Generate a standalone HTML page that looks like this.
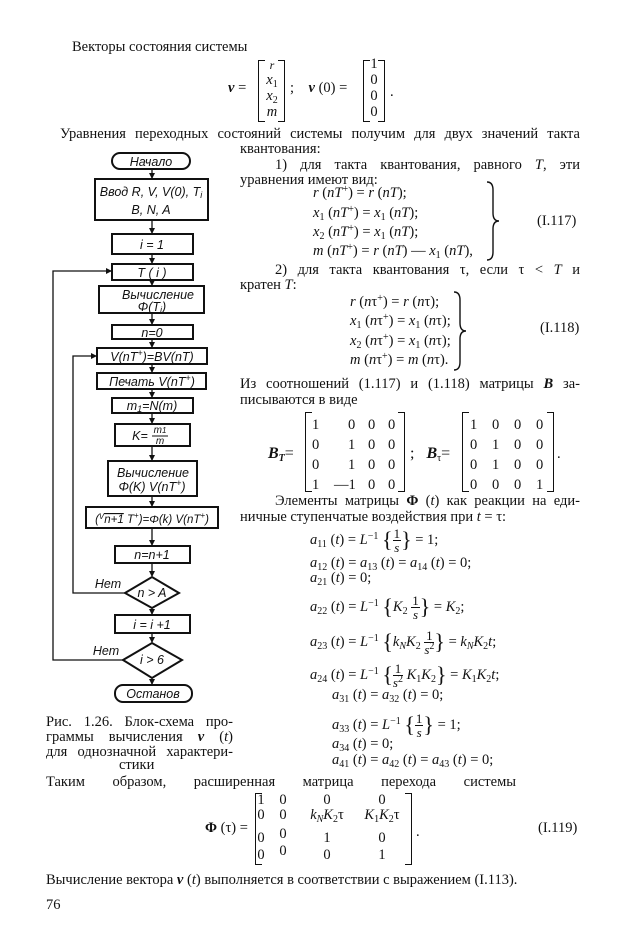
<!DOCTYPE html>
<html><head><meta charset="utf-8"><style>
body{margin:0;background:#fff;}
#p{position:relative;width:620px;height:950px;overflow:hidden;font-family:"Liberation Serif",serif;font-size:14.5px;color:#111;}
.t{position:absolute;line-height:16px;white-space:nowrap;}
.j{position:absolute;line-height:16px;text-align:justify;text-align-last:justify;white-space:nowrap;}
.j span{display:inline}
i{font-style:italic}
b{font-weight:bold}
sub{font-size:10px;vertical-align:-3px;line-height:0}
sup{font-size:10px;vertical-align:5px;line-height:0}
.br{position:absolute;border:1.5px solid #111;}
.bl{border-right:none;width:6px}
.bR{border-left:none;width:6px}
.c{position:absolute;line-height:16px;text-align:center;white-space:nowrap;}
.fr{display:inline-block;vertical-align:middle;text-align:center;line-height:13px;font-size:13px}
.fr span{display:block}
.fr .n{border-bottom:1px solid #111;padding:0 1px}
.cb{font-size:22px;vertical-align:-3px}
</style></head><body><div id="p">

<div class="t" style="left:72px;top:39px">Векторы состояния системы</div>
<div class="t" style="left:228px;top:80px"><b><i>v</i></b> =</div>
<div class="br bl" style="left:258px;top:60px;height:60px"></div>
<div class="br bR" style="left:278px;top:60px;height:60px"></div>
<div class="c" style="left:262px;width:20px;top:57px;font-size:12px"><i>r</i></div>
<div class="c" style="left:262px;width:20px;top:72px"><i>x</i><sub>1</sub></div>
<div class="c" style="left:262px;width:20px;top:88px"><i>x</i><sub>2</sub></div>
<div class="c" style="left:262px;width:20px;top:104px"><i>m</i></div>
<div class="t" style="left:290px;top:80px">;&nbsp;&nbsp;&nbsp; <b><i>v</i></b> (0) =</div>
<div class="br bl" style="left:363px;top:60px;height:60px"></div>
<div class="br bR" style="left:378px;top:60px;height:60px"></div>
<div class="c" style="left:366px;width:16px;top:56px">1</div>
<div class="c" style="left:366px;width:16px;top:72px">0</div>
<div class="c" style="left:366px;width:16px;top:88px">0</div>
<div class="c" style="left:366px;width:16px;top:104px">0</div>
<div class="t" style="left:390px;top:84px">.</div>

<div class="j" style="left:60px;width:520px;top:126px">Уравнения переходных состояний системы получим для двух значений такта</div>
<div class="t" style="left:240px;top:141px">квантования:</div>
<div class="j" style="left:275px;width:305px;top:157px">1) для такта квантования, равного <i>T</i>, эти</div>
<div class="t" style="left:240px;top:172px">уравнения имеют вид:</div>
<div class="t" style="left:313px;top:185px"><i>r</i> (<i>nT</i><sup>+</sup>) = <i>r</i> (<i>nT</i>);</div>
<div class="t" style="left:313px;top:205px"><i>x</i><sub>1</sub> (<i>nT</i><sup>+</sup>) = <i>x</i><sub>1</sub> (<i>nT</i>);</div>
<div class="t" style="left:313px;top:224px"><i>x</i><sub>2</sub> (<i>nT</i><sup>+</sup>) = <i>x</i><sub>1</sub> (<i>nT</i>);</div>
<div class="t" style="left:313px;top:243px"><i>m</i> (<i>nT</i><sup>+</sup>) = <i>r</i> (<i>nT</i>) — <i>x</i><sub>1</sub> (<i>nT</i>),</div>
<svg style="position:absolute;left:485px;top:180px" width="20" height="82"><path d="M2 2 Q8 2 8 10 L8 33 Q8 41 14 41 Q8 41 8 49 L8 72 Q8 80 2 80" fill="none" stroke="#111" stroke-width="1.4"/></svg>
<div class="t" style="left:537px;top:213px">(I.117)</div>

<div class="j" style="left:275px;width:305px;top:262px">2) для такта квантования τ, если τ &lt; <i>T</i> и</div>
<div class="t" style="left:240px;top:277px">кратен <i>T</i>:</div>
<div class="t" style="left:350px;top:294px"><i>r</i> (<i>n</i>τ<sup>+</sup>) = <i>r</i> (<i>n</i>τ);</div>
<div class="t" style="left:350px;top:313px"><i>x</i><sub>1</sub> (<i>n</i>τ<sup>+</sup>) = <i>x</i><sub>1</sub> (<i>n</i>τ);</div>
<div class="t" style="left:350px;top:333px"><i>x</i><sub>2</sub> (<i>n</i>τ<sup>+</sup>) = <i>x</i><sub>1</sub> (<i>n</i>τ);</div>
<div class="t" style="left:350px;top:352px"><i>m</i> (<i>n</i>τ<sup>+</sup>) = <i>m</i> (<i>n</i>τ).</div>
<svg style="position:absolute;left:452px;top:290px" width="20" height="82"><path d="M2 2 Q8 2 8 10 L8 33 Q8 41 14 41 Q8 41 8 49 L8 72 Q8 80 2 80" fill="none" stroke="#111" stroke-width="1.4"/></svg>
<div class="t" style="left:540px;top:320px">(I.118)</div>

<div class="j" style="left:240px;width:340px;top:376px">Из соотношений (1.117) и (1.118) матрицы <b><i>B</i></b> за-</div>
<div class="t" style="left:240px;top:392px">писываются в виде</div>
<div class="t" style="left:268px;top:446px;font-size:16px"><b><i>B</i></b><sub style="font-style:italic;font-weight:bold">T</sub>=</div>
<div class="br bl" style="left:305px;top:412px;height:78px"></div>
<div class="br bR" style="left:398px;top:412px;height:78px"></div>
<div class="t" style="left:312px;top:417px;word-spacing:0">1</div><div class="t" style="left:348px;top:417px">0</div><div class="t" style="left:368px;top:417px">0</div><div class="t" style="left:388px;top:417px">0</div>
<div class="t" style="left:312px;top:437px">0</div><div class="t" style="left:348px;top:437px">1</div><div class="t" style="left:368px;top:437px">0</div><div class="t" style="left:388px;top:437px">0</div>
<div class="t" style="left:312px;top:457px">0</div><div class="t" style="left:348px;top:457px">1</div><div class="t" style="left:368px;top:457px">0</div><div class="t" style="left:388px;top:457px">0</div>
<div class="t" style="left:312px;top:477px">1</div><div class="t" style="left:334px;top:477px">—1</div><div class="t" style="left:368px;top:477px">0</div><div class="t" style="left:388px;top:477px">0</div>
<div class="t" style="left:410px;top:446px;font-size:16px">;&nbsp;&nbsp; <b><i>B</i></b><sub>τ</sub>=</div>
<div class="br bl" style="left:462px;top:412px;height:78px"></div>
<div class="br bR" style="left:547px;top:412px;height:78px"></div>
<div class="t" style="left:470px;top:417px">1</div><div class="t" style="left:492px;top:417px">0</div><div class="t" style="left:514px;top:417px">0</div><div class="t" style="left:536px;top:417px">0</div>
<div class="t" style="left:470px;top:437px">0</div><div class="t" style="left:492px;top:437px">1</div><div class="t" style="left:514px;top:437px">0</div><div class="t" style="left:536px;top:437px">0</div>
<div class="t" style="left:470px;top:457px">0</div><div class="t" style="left:492px;top:457px">1</div><div class="t" style="left:514px;top:457px">0</div><div class="t" style="left:536px;top:457px">0</div>
<div class="t" style="left:470px;top:477px">0</div><div class="t" style="left:492px;top:477px">0</div><div class="t" style="left:514px;top:477px">0</div><div class="t" style="left:536px;top:477px">1</div>
<div class="t" style="left:557px;top:446px">.</div>

<div class="j" style="left:275px;width:305px;top:493px">Элементы матрицы <b>Φ</b> (<i>t</i>) как реакции на еди-</div>
<div class="t" style="left:240px;top:509px">ничные ступенчатые воздействия при <i>t</i> = τ:</div>

<div class="t" style="left:310px;top:527px"><i>a</i><sub>11</sub> (<i>t</i>) = <i>L</i><sup>−1</sup> <span class="cb">{</span><span class="fr"><span class="n">1</span><span><i>s</i></span></span><span class="cb">}</span> = 1;</div>
<div class="t" style="left:310px;top:555px"><i>a</i><sub>12</sub> (<i>t</i>) = <i>a</i><sub>13</sub> (<i>t</i>) = <i>a</i><sub>14</sub> (<i>t</i>) = 0;</div>
<div class="t" style="left:310px;top:570px"><i>a</i><sub>21</sub> (<i>t</i>) = 0;</div>
<div class="t" style="left:310px;top:594px"><i>a</i><sub>22</sub> (<i>t</i>) = <i>L</i><sup>−1</sup> <span class="cb">{</span><i>K</i><sub>2</sub> <span class="fr"><span class="n">1</span><span><i>s</i></span></span><span class="cb">}</span> = <i>K</i><sub>2</sub>;</div>
<div class="t" style="left:310px;top:629px"><i>a</i><sub>23</sub> (<i>t</i>) = <i>L</i><sup>−1</sup> <span class="cb">{</span><i>k<sub>N</sub>K</i><sub>2</sub> <span class="fr"><span class="n">1</span><span><i>s</i><sup>2</sup></span></span><span class="cb">}</span> = <i>k<sub>N</sub>K</i><sub>2</sub><i>t</i>;</div>
<div class="t" style="left:310px;top:662px"><i>a</i><sub>24</sub> (<i>t</i>) = <i>L</i><sup>−1</sup> <span class="cb">{</span><span class="fr"><span class="n">1</span><span><i>s</i><sup>2</sup></span></span> <i>K</i><sub>1</sub><i>K</i><sub>2</sub><span class="cb">}</span> = <i>K</i><sub>1</sub><i>K</i><sub>2</sub><i>t</i>;</div>
<div class="t" style="left:332px;top:687px"><i>a</i><sub>31</sub> (<i>t</i>) = <i>a</i><sub>32</sub> (<i>t</i>) = 0;</div>
<div class="t" style="left:332px;top:712px"><i>a</i><sub>33</sub> (<i>t</i>) = <i>L</i><sup>−1</sup> <span class="cb">{</span><span class="fr"><span class="n">1</span><span><i>s</i></span></span><span class="cb">}</span> = 1;</div>
<div class="t" style="left:332px;top:736px"><i>a</i><sub>34</sub> (<i>t</i>) = 0;</div>
<div class="t" style="left:332px;top:752px"><i>a</i><sub>41</sub> (<i>t</i>) = <i>a</i><sub>42</sub> (<i>t</i>) = <i>a</i><sub>43</sub> (<i>t</i>) = 0;</div>

<div class="j" style="left:46px;width:187px;top:714px">Рис. 1.26. Блок-схема про-</div>
<div class="j" style="left:46px;width:187px;top:729px">граммы вычисления <b><i>v</i></b> (<i>t</i>)</div>
<div class="j" style="left:46px;width:187px;top:744px">для однозначной характери-</div>
<div class="t" style="left:119px;top:757px">стики</div>

<div class="j" style="left:46px;width:470px;top:774px">Таким образом, расширенная матрица перехода системы</div>
<div class="t" style="left:205px;top:820px"><b>Φ</b> (τ) =</div>
<div class="br bl" style="left:255px;top:793px;height:70px"></div>
<div class="br bR" style="left:405px;top:793px;height:70px"></div>
<div class="c" style="left:254px;width:14px;top:792px">1</div><div class="c" style="left:276px;width:14px;top:792px">0</div><div class="c" style="left:307px;width:40px;top:792px">0</div><div class="c" style="left:357px;width:50px;top:792px">0</div>
<div class="c" style="left:254px;width:14px;top:807px">0</div><div class="c" style="left:276px;width:14px;top:807px">0</div><div class="c" style="left:302px;width:50px;top:807px"><i>k<sub>N</sub>K</i><sub>2</sub>τ</div><div class="c" style="left:357px;width:50px;top:807px"><i>K</i><sub>1</sub><i>K</i><sub>2</sub>τ</div>
<div class="c" style="left:254px;width:14px;top:830px">0</div><div class="c" style="left:276px;width:14px;top:826px">0</div><div class="c" style="left:307px;width:40px;top:830px">1</div><div class="c" style="left:357px;width:50px;top:830px">0</div>
<div class="c" style="left:254px;width:14px;top:847px">0</div><div class="c" style="left:276px;width:14px;top:843px">0</div><div class="c" style="left:307px;width:40px;top:847px">0</div><div class="c" style="left:357px;width:50px;top:847px">1</div>
<div class="t" style="left:416px;top:824px">.</div>
<div class="t" style="left:538px;top:820px">(I.119)</div>

<div class="t" style="left:46px;top:872px">Вычисление вектора <b><i>v</i></b> (<i>t</i>) выполняется в соответствии с выражением (I.113).</div>
<div class="t" style="left:46px;top:897px">76</div>

<svg style="position:absolute;left:0;top:0" width="620" height="950" font-family="Liberation Sans, sans-serif" font-style="italic" font-size="12.5" text-anchor="middle">
<defs><marker id="a" markerWidth="6" markerHeight="6" refX="5" refY="3" orient="auto" markerUnits="userSpaceOnUse"><path d="M0 0 L6 3 L0 6 Z" fill="#111"/></marker></defs>
<g stroke="#111" stroke-width="1.3" fill="none">
<line x1="152" y1="169" x2="152" y2="178" marker-end="url(#a)"/>
<line x1="152" y1="220" x2="152" y2="233" marker-end="url(#a)"/>
<line x1="152" y1="254" x2="152" y2="263" marker-end="url(#a)"/>
<line x1="152" y1="280" x2="152" y2="285" marker-end="url(#a)"/>
<line x1="152" y1="313" x2="152" y2="324" marker-end="url(#a)"/>
<line x1="152" y1="339" x2="152" y2="347" marker-end="url(#a)"/>
<line x1="152" y1="364" x2="152" y2="372" marker-end="url(#a)"/>
<line x1="152" y1="389" x2="152" y2="397" marker-end="url(#a)"/>
<line x1="152" y1="413" x2="152" y2="423" marker-end="url(#a)"/>
<line x1="152" y1="446" x2="152" y2="460" marker-end="url(#a)"/>
<line x1="152" y1="496" x2="152" y2="506" marker-end="url(#a)"/>
<line x1="152" y1="528" x2="152" y2="545" marker-end="url(#a)"/>
<line x1="152" y1="563" x2="152" y2="576" marker-end="url(#a)"/>
<line x1="152" y1="608" x2="152" y2="614" marker-end="url(#a)"/>
<line x1="152" y1="633" x2="152" y2="642" marker-end="url(#a)"/>
<line x1="152" y1="678" x2="152" y2="684" marker-end="url(#a)"/>
<polyline points="123,660 53,660 53,271 111,271" marker-end="url(#a)"/>
<polyline points="125,593 73,593 73,356 96,356" marker-end="url(#a)"/>
</g>
<g stroke="#111" stroke-width="2" fill="#fff">
<rect x="112" y="153" width="78" height="16" rx="8"/>
<rect x="95" y="179" width="113" height="41"/>
<rect x="112" y="234" width="81" height="20"/>
<rect x="112" y="264" width="81" height="16"/>
<rect x="99" y="286" width="105" height="27"/>
<rect x="112" y="325" width="81" height="14"/>
<rect x="97" y="348" width="110" height="16"/>
<rect x="97" y="373" width="109" height="16"/>
<rect x="112" y="398" width="81" height="15"/>
<rect x="115" y="424" width="75" height="22"/>
<rect x="108" y="461" width="89" height="35"/>
<rect x="86" y="507" width="132" height="21"/>
<rect x="115" y="546" width="75" height="17"/>
<polygon points="125,593 152,577 179,593 152,608"/>
<rect x="115" y="615" width="75" height="18"/>
<polygon points="123,660 152,643 182,660 152,678"/>
<rect x="115" y="685" width="77" height="17" rx="8"/>
</g>
<g fill="#111">
<text x="151" y="166">Начало</text>
<text x="151" y="196">Ввод R, V, V(0), T<tspan font-size="9" dy="2">i</tspan></text>
<text x="151" y="214">B, N, A</text>
<text x="152" y="249">i = 1</text>
<text x="152" y="277">T ( i )</text>
<text x="158" y="299">Вычисление</text>
<text x="152" y="311">Φ(T<tspan font-size="9" dy="2">i</tspan><tspan dy="-2">)</tspan></text>
<text x="152" y="337">n=0</text>
<text x="152" y="361">V(nT<tspan font-size="9" dy="-5">+</tspan><tspan dy="5">)=BV(nT)</tspan></text>
<text x="152" y="386">Печать V(nT<tspan font-size="9" dy="-5">+</tspan><tspan dy="5">)</tspan></text>
<text x="152" y="410">m<tspan font-size="9" dy="2">1</tspan><tspan dy="-2">=N(m)</tspan></text>
<text x="140" y="440">K=</text>
<text x="160" y="433" font-size="10">m<tspan font-size="8">1</tspan></text>
<line x1="152" y1="436" x2="168" y2="436" stroke="#111"/>
<text x="160" y="444" font-size="10">m</text>
<text x="153" y="477">Вычисление</text>
<text x="152" y="491">Φ(K) V(nT<tspan font-size="9" dy="-5">+</tspan><tspan dy="5">)</tspan></text>
<text x="152" y="523" font-size="11.5">(<tspan font-size="8" dy="-4">V</tspan><tspan dy="4" text-decoration="overline">n+1</tspan> T<tspan font-size="8" dy="-5">+</tspan><tspan dy="5">)=Φ(k) V(nT</tspan><tspan font-size="8" dy="-5">+</tspan><tspan dy="5">)</tspan></text>
<text x="152" y="559">n=n+1</text>
<text x="152" y="597">n &gt; A</text>
<text x="152" y="629">i = i +1</text>
<text x="152" y="664">i &gt; 6</text>
<text x="153" y="698">Останов</text>
<text x="108" y="588">Нет</text>
<text x="106" y="655">Нет</text>
</g>
</svg>
</div></body></html>
